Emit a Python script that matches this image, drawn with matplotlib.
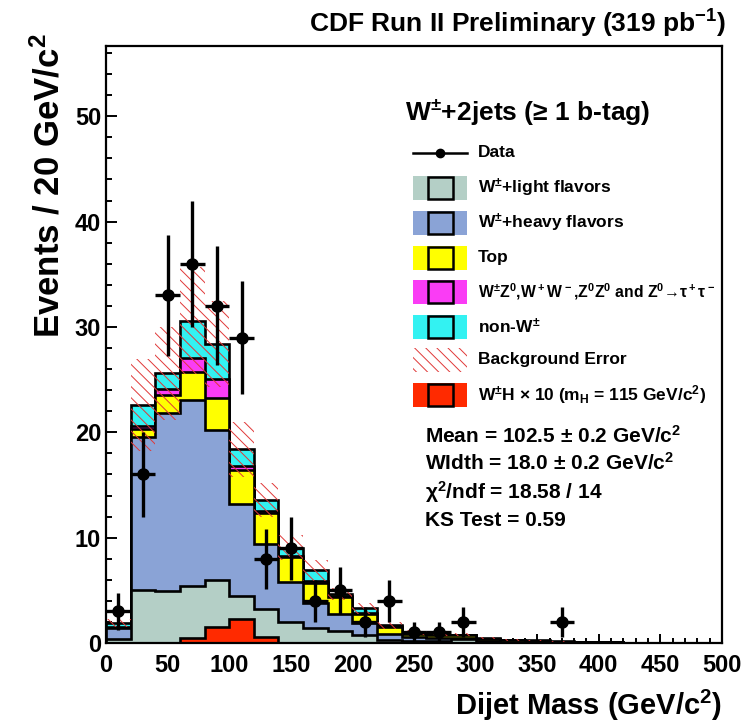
import numpy as np
import matplotlib
matplotlib.use("Agg")
import matplotlib.pyplot as plt
from matplotlib.patches import Rectangle
from matplotlib.lines import Line2D

plt.rcParams['font.family'] = ['Liberation Sans', 'DejaVu Sans']
plt.rcParams['font.weight'] = 'bold'
plt.rcParams['mathtext.default'] = 'regular'
plt.rcParams['hatch.linewidth'] = 0.7

# ---------------- data ----------------
bin_edges = list(range(0, 520, 20))  # 0..500 in 20 GeV bins

w_light = [0.4, 5.0, 4.9, 5.4, 6.0, 4.5, 3.25, 2.0, 1.4, 1.1, 0.76, 0.3, 0.2, 0.15, 0.35,
           0.05, 0.04, 0.03, 0.02, 0.01, 0.0, 0.0, 0.0, 0.0, 0.0]
w_heavy = [1.0, 14.6, 16.9, 17.7, 14.2, 8.7, 6.15, 3.75, 2.4, 1.7, 1.14, 0.6, 0.4, 0.35, 0.1,
           0.15, 0.1, 0.08, 0.05, 0.04, 0.02, 0.02, 0.01, 0.01, 0.0]
top = [0.05, 0.7, 1.7, 2.6, 3.1, 3.2, 2.9, 2.45, 1.9, 1.6, 0.9, 0.65, 0.3, 0.25, 0.3,
       0.2, 0.12, 0.1, 0.06, 0.04, 0.03, 0.02, 0.02, 0.01, 0.01]
dibosons = [0.05, 0.3, 0.6, 1.4, 1.8, 0.4, 0.2, 0.1, 0.15, 0.05, 0.05, 0.02, 0.05, 0.03, 0.03,
            0.02, 0.02, 0.02, 0.01, 0.01, 0.0, 0.0, 0.0, 0.0, 0.0]
non_w = [0.4, 2.0, 1.5, 3.5, 3.3, 1.6, 1.1, 0.75, 1.05, 0.2, 0.45, 0.1, 0.05, 0.02, 0.02,
         0.03, 0.02, 0.02, 0.01, 0.0, 0.0, 0.0, 0.0, 0.0, 0.0]
bkg_error = [0.4, 4.4, 4.4, 5.1, 4.1, 2.6, 1.6, 1.2, 1.0, 0.6, 0.5, 0.3, 0.2, 0.15, 0.15,
             0.1, 0.08, 0.06, 0.04, 0.03, 0.02, 0.02, 0.01, 0.01, 0.01]
wh_signal_x10 = [0.0, 0.0, 0.0, 0.5, 1.5, 2.3, 0.6, 0.0, 0.0, 0.0, 0.0, 0.0, 0.0, 0.0, 0.0,
                 0.0, 0.0, 0.0, 0.0, 0.0, 0.0, 0.0, 0.0, 0.0, 0.0]
data_counts = [3, 16, 33, 36, 32, 29, 8, 9, 4, 5, 2, 4, 1, 1, 2,
               0, 0, 0, 2, 0, 0, 0, 0, 0, 0]

components = [w_light, w_heavy, top, dibosons, non_w]
comp_colors = ['#b4cfc6', '#8aa3d6', '#ffff00', '#fa3cf5', '#33f2f2']
comp_labels = ['W$^{\\pm}$+light flavors', 'W$^{\\pm}$+heavy flavors', 'Top',
               'W$^{\\pm}$Z$^0$,W$^+$W$^-$,Z$^0$Z$^0$ and Z$^0$\u2192\u03c4$^+$\u03c4$^-$',
               'non-W$^{\\pm}$']
signal_color = '#ff2a00'
hatch_color = '#e03838'
hatch_pattern = '\\\\\\'

edges = np.array(bin_edges, dtype=float)
centers = 0.5 * (edges[:-1] + edges[1:])

# ---------------- figure ----------------
W, H = 754, 727
fig = plt.figure(figsize=(W / 100, H / 100), dpi=100)
AX_L, AX_R, AX_T, AX_B = 106, 722, 45.7, 643
ax = fig.add_axes([AX_L / W, 1 - AX_B / H, (AX_R - AX_L) / W, (AX_B - AX_T) / H])

cum = np.cumsum(np.array(components, dtype=float), axis=0)
for i in range(len(components) - 1, -1, -1):
    ax.stairs(cum[i], edges, baseline=0, fill=True, facecolor=comp_colors[i],
              edgecolor='black', linewidth=1.9, zorder=2)

sig = np.array(wh_signal_x10)
ax.stairs(sig, edges, baseline=0, fill=True, facecolor=signal_color,
          edgecolor='black', linewidth=1.9, zorder=3)

total = cum[-1]
err = np.array(bkg_error)
ax.bar(centers, 2 * err, bottom=total - err, width=20, color='none',
       edgecolor=hatch_color, hatch=hatch_pattern, linewidth=0, zorder=4)

dc = np.array(data_counts, dtype=float)
mask = dc > 0
ax.errorbar(centers[mask], dc[mask], yerr=np.sqrt(dc[mask]), xerr=10, fmt='o',
            color='black', ms=8, elinewidth=2.4, capsize=0, zorder=6)

ax.set_xlim(0, 500)
ax.set_ylim(0, 56.7)
ax.set_xticks(np.arange(0, 501, 50))
ax.set_xticks(np.arange(0, 501, 10), minor=True)
ax.set_yticks(np.arange(0, 51, 10))
ax.set_yticks(np.arange(0, 57, 2), minor=True)
ax.tick_params(axis='both', which='both', direction='in', top=False, right=False,
               width=1.4, labelsize=17)
ax.tick_params(axis='y', which='major', length=8)
ax.tick_params(axis='y', which='minor', length=4)
ax.tick_params(axis='x', which='major', length=6.5, pad=8)
ax.tick_params(axis='x', which='minor', length=3.5)
for lab in ax.get_xticklabels() + ax.get_yticklabels():
    lab.set_fontweight('bold')
for s in ax.spines.values():
    s.set_linewidth(1.6)
    s.set_zorder(10)

# axis titles
fig.text(49 / W, 1 - 33 / H, 'Events / 20 GeV/c$^2$', rotation=90, ha='center', va='top',
         fontsize=25, fontweight='bold')
fig.text(722 / W, 1 - 705 / H, 'Dijet Mass (GeV/c$^2$)', ha='right', va='center',
         fontsize=21, fontweight='bold')
fig.text(726 / W, 1 - 24 / H, 'CDF Run II Preliminary (319 pb$^{-1}$)', ha='right', va='center',
         fontsize=19, fontweight='bold')


def af(px, py):
    return ((px - AX_L) / (AX_R - AX_L), (AX_B - py) / (AX_B - AX_T))


# legend
tx, ty = af(405, 112)
ax.text(tx, ty, 'W$^{\\pm}$+2jets (\u2265 1 b-tag)', transform=ax.transAxes,
        ha='left', va='center', fontsize=19, fontweight='bold')

row_y = [153, 188.3, 222.7, 257.7, 291.7, 326.7, 360, 395]
box_x0, box_x1 = 413, 467
inner_x0, inner_x1 = 428, 453
box_h = 24
text_x = 478
bw = (box_x1 - box_x0) / (AX_R - AX_L)
bh = box_h / (AX_B - AX_T)
iw = (inner_x1 - inner_x0) / (AX_R - AX_L)
ih = (box_h - 2) / (AX_B - AX_T)

# data entry
x0, y0 = af(box_x0, row_y[0])
x1, _ = af(box_x1, row_y[0])
ax.add_line(Line2D([x0, x1], [y0, y0], transform=ax.transAxes, color='black', lw=1.8, zorder=7))
ax.add_line(Line2D([(x0 + x1) / 2], [y0], transform=ax.transAxes, marker='o', ms=6,
                   color='black', zorder=7))
lx, _ = af(text_x, row_y[0])
ax.text(lx, y0, 'Data', transform=ax.transAxes, ha='left', va='center', fontsize=12.5,
        fontweight='bold')

entries = list(zip(comp_labels, comp_colors)) + [('Background Error', None),
                                                  ('W$^{\\pm}$H \u00d7 10 (m$_H$ = 115 GeV/c$^2$)',
                                                   signal_color)]
for k, (lab, col) in enumerate(entries):
    yy = row_y[k + 1]
    bx, by = af(box_x0, yy)
    if col is None:
        ax.add_patch(Rectangle((bx, by - bh / 2), bw, bh, transform=ax.transAxes,
                               facecolor='none', edgecolor=hatch_color, hatch=hatch_pattern,
                               linewidth=0, zorder=7))
    else:
        ax.add_patch(Rectangle((bx, by - bh / 2), bw, bh, transform=ax.transAxes,
                               facecolor=col, edgecolor='none', zorder=7))
        ix, _ = af(inner_x0, yy)
        ax.add_patch(Rectangle((ix, by - ih / 2), iw, ih, transform=ax.transAxes,
                               facecolor=col, edgecolor='black', linewidth=1.8, zorder=8))
    lx, _ = af(text_x, yy)
    fs = 11.3 if k == 3 else 12.5
    ax.text(lx, by, lab, transform=ax.transAxes, ha='left', va='center', fontsize=fs,
            fontweight='bold', zorder=8)

# fit statistics
stats = ['Mean = 102.5 \u00b1 0.2 GeV/c$^2$', 'WIdth = 18.0 \u00b1 0.2 GeV/c$^2$',
         '$\\chi^2$/ndf = 18.58 / 14', 'KS Test = 0.59']
stats_y = [436, 463, 492, 521]
for s, yy in zip(stats, stats_y):
    sx, sy = af(425, yy)
    ax.text(sx, sy, s, transform=ax.transAxes, ha='left', va='center', fontsize=15,
            fontweight='bold')

fig.savefig('out.png', dpi=100)
